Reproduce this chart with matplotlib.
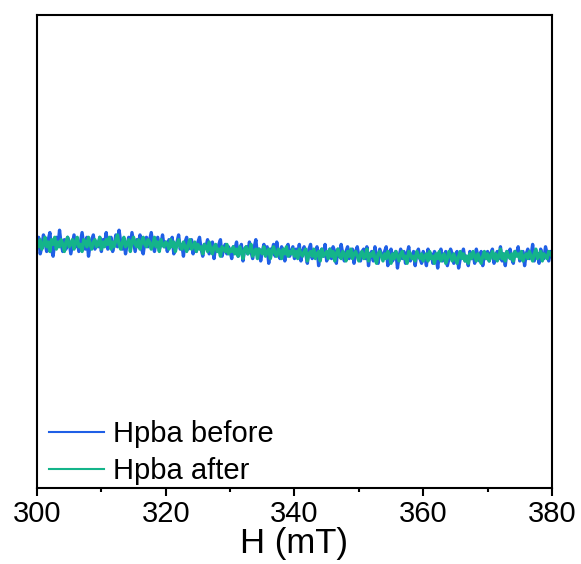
import numpy as np
import matplotlib
matplotlib.use('Agg')
import matplotlib.pyplot as plt
from matplotlib.ticker import MultipleLocator

plt.rcParams['font.family'] = ['Liberation Sans', 'DejaVu Sans']

# EPR signal, arbitrary units (y range -100..100), one value every 0.25 mT
before = [3, 6, -1, 2, 7, 4, 0, 5, 8, 1, -2, 4, 6, 2, 9, 3, 0, 5, 1, 6, 4, -1, 3, 7, 2, 5, 0, 4, 8, 3, 1, 6, -2, 3, 5, 7, 1, 4, 2, 6, 0,
          5, 3, 8, 1, 4, 6, 0, 3, 7, 2, 9, 4, 1, 5, -1, 3, 6, 2, 8, 4, 0, 5, 3, 7, 1, -1, 4, 6, 2, 5, 8, 3, 0, 4, 6, 1, 3, 7, 2, 4,
          0, 5, 3, 6, -1, 2, 4, 7, 1, 3, -2, 4, 6, 1, 2, 5, -1, 3, 0, 4, 6, 1, -2, 3, 2, 5, -1, 1, 4, -3, 2, 0, 3, 5, -2, 1, 3, -1, 2, 0,
          -3, 2, 1, 4, -2, 0, 3, -4, 1, 2, -1, 4, 0, -3, 2, 5, -2, 1, -4, 0, 3, -1, 2, -5, 1, 0, 3, -2, 4, -1, -3, 2, 0, -4, 1, 3, -2, 0, 2, -3,
          1, -2, 3, -4, 0, 2, -1, -5, 1, 3, -3, 0, -1, 2, -6, 0, 1, -2, 3, -4, -1, 1, -3, 2, 0, -5, 1, -2, 3, -1, -4, 0, 2, -3, -1, 1, -5, 0, 2, -2,
          -4, 0, 1, -3, 2, -6, -1, 0, -4, 2, -2, -5, 1, -1, -3, 0, 2, -6, -2, 1, -4, -1, 0, -7, -2, 1, -3, 0, -5, -1, 2, -4, -2, 0, -6, -1, 1, -3, -5, 0,
          -2, -6, 1, -3, -1, -5, 0, -2, -7, -1, 1, -4, -2, 0, -6, -3, 1, -1, -5, -2, 0, -7, -3, -1, 1, -4, -2, -6, 0, -3, -1, -5, 1, -2, -4, 0, -6, -1, -3, 0,
          -4, -1, 1, -5, -2, 0, -3, 2, -4, -1, -6, 0, -2, 1, -3, -5, 0, -1, 2, -4, -2, 0, -6, -1, 1, -3, -2, 3, -4, 0, -1, -5, 1, -2, -3, 2, -1, -4, 0, -2]
after = [4, 2, 5, 1, 3, 6, 2, 4, 0, 5, 3, 6, 1, 4, 2, 5, 3, 0, 4, 6, 2, 3, 5, 1, 4, 6, 2, 3, 0, 5, 4, 2, 6, 3, 1, 4, 5, 2, 3, 6, 1,
         4, 2, 5, 3, 6, 1, 4, 2, 5, 7, 3, 1, 4, 6, 2, 3, 5, 0, 4, 6, 3, 2, 5, 1, 4, 6, 3, 2, 5, 4, 1, 3, 6, 2, 4, 0, 5, 3, 2, 4,
         3, 1, 5, 2, 4, 0, 3, 5, 2, 1, 4, 2, 0, 3, 5, 1, 2, 4, 0, 3, 1, 2, -1, 3, 2, 0, 4, 1, -1, 2, 3, 0, 1, -2, 2, 1, 0, 3, -1, 1,
         0, 2, -1, 1, -2, 2, 0, -3, 1, 2, -1, 0, 3, -2, 0, 1, -3, 1, 0, -1, 2, -2, 0, 1, -3, 0, 2, -1, -2, 1, 0, -3, 1, -1, 2, -2, 0, -1, 1, -2,
         0, -3, 1, -1, -2, 0, 1, -4, -1, 0, -2, 1, -3, -1, 0, -4, 1, -2, -1, 0, -3, 1, -2, 0, -4, -1, 1, -2, -3, 0, -1, -4, 0, -2, 1, -3, -1, 0, -2, -4,
         -1, 0, -3, -2, 1, -4, -1, -2, 0, -3, -5, -1, 0, -2, -4, -1, -3, 0, -2, -5, -1, -3, 0, -2, -4, -1, 0, -3, -2, -5, 0, -1, -3, -2, -4, 0, -2, -3, -1, -4,
         -2, -1, -4, 0, -3, -2, -5, -1, -3, 0, -4, -2, -1, -5, -3, 0, -2, -4, -1, -3, -5, -2, 0, -3, -1, -4, -2, -5, -1, -3, 0, -2, -4, -1, -3, -5, -2, 0, -3, -1,
         -4, -2, 0, -3, -1, -4, -2, 1, -3, -1, -4, 0, -2, -3, -1, -4, 0, -2, -1, -3, 0, -4, -2, -1, -3, 0, -2, -4, -1, 1, -3, -2, 0, -4, -1, -2, -3, 0, -1, -2]
field = np.linspace(300, 380, len(before))
labels = ['Hpba before', 'Hpba after']
colors = ['#1f5fe6', '#14b48a']

fig = plt.figure(figsize=(5.81, 5.64), dpi=100)
ax = fig.add_axes([0.0637, 0.1348, 0.8863, 0.8386])

ax.plot(field, before, color=colors[0], lw=2.4, label=labels[0])
ax.plot(field, after, color=colors[1], lw=2.4, label=labels[1])

ax.set_xlim(300, 380)
ax.set_ylim(-100, 100)
ax.set_yticks([])
ax.xaxis.set_major_locator(MultipleLocator(20))
ax.xaxis.set_minor_locator(MultipleLocator(10))
ax.tick_params(axis='x', which='major', direction='out', length=6, width=1.5, labelsize=21, pad=3)
ax.tick_params(axis='x', which='minor', direction='out', length=3, width=1.5)
for s in ax.spines.values():
    s.set_linewidth(1.5)
ax.set_xlabel('H (mT)', fontsize=25, labelpad=-1)

leg = ax.legend(loc='lower left', bbox_to_anchor=(0.0, -0.018), frameon=False,
                fontsize=21, handlelength=1.9, handletextpad=0.3,
                labelspacing=0.3, borderaxespad=0.1, borderpad=0.3)
for h in leg.get_lines():
    h.set_linewidth(1.5)

fig.savefig('out.png', dpi=100)
